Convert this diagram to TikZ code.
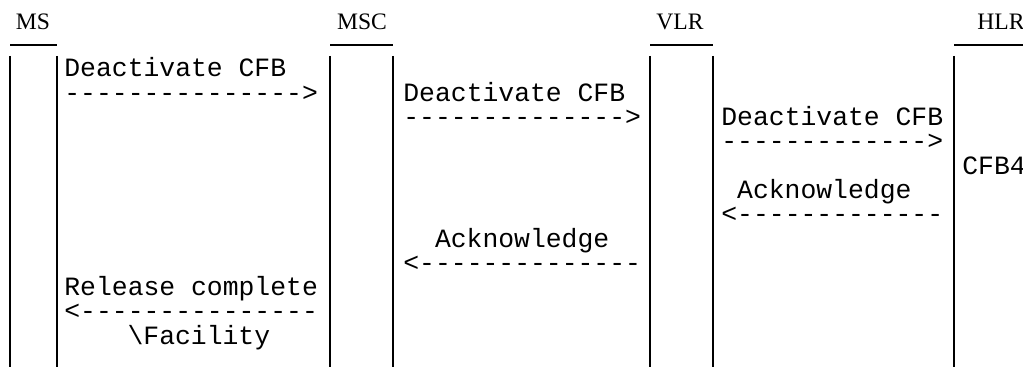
\documentclass[tikz,border=0pt]{standalone}
\usepackage{fontspec}
\setmainfont{Liberation Serif}
\setmonofont{Liberation Mono}
\usetikzlibrary{positioning}

\begin{document}
\begin{tikzpicture}[x=0.5pt, y=-0.5pt,
    entity/.style={font=\fontsize{11.8}{14}\selectfont, anchor=base, inner sep=0pt},
    msg/.style={font=\ttfamily\fontsize{13.2}{15}\selectfont, anchor=base west, inner sep=0pt},
    lifeline/.style={line width=0.65pt},
    headbar/.style={line width=1pt}]
  \useasboundingbox (0,0) rectangle (1023,367);
  % entities and their bars
  \node [entity] (ms) at (33,30) {MS};
  \node [entity] (msc) at (362,30) {MSC};
  \node [entity] (vlr) at (680,30) {VLR};
  \node [entity] (hlr) at (1001,30) {HLR};
  \draw [headbar] (10,45) -- (57,45);
  \draw [headbar] (330,45) -- (393,45);
  \draw [headbar] (650,45) -- (713,45);
  \draw [headbar] (954,45) -- (1023,45);
  % lifelines
  \foreach \x in {10,57,330,393,650,713,954}
    \draw [lifeline] (\x,56) -- (\x,367);
  % MS -> MSC
  \node [msg] (deact1) at (64,77) {Deactivate CFB};
  \node [msg] (deact1arr) at ([yshift=-12.15pt]deact1.base west) {--------------->};
  % MSC -> VLR
  \node [msg] (deact2) at (403,101.3) {Deactivate CFB};
  \node [msg] (deact2arr) at ([yshift=-12.15pt]deact2.base west) {-------------->};
  % VLR -> HLR
  \node [msg] (deact3) at (721,125.6) {Deactivate CFB};
  \node [msg] (deact3arr) at ([yshift=-12.15pt]deact3.base west) {------------->};
  \node [msg] (cfb) at (962,174.2) {CFB4};
  % HLR -> VLR
  \node [msg] (ack1) at (736.8,198.5) {Acknowledge};
  \node [msg] (ack1arr) at (721,222.8) {<-------------};
  % VLR -> MSC
  \node [msg] (ack2) at (434.6,247.1) {Acknowledge};
  \node [msg] (ack2arr) at (403,271.4) {<--------------};
  % MSC -> MS
  \node [msg] (rel) at (64,295.7) {Release complete};
  \node [msg] (relarr) at ([yshift=-12.15pt]rel.base west) {<---------------};
  \node [msg] (fac) at ([xshift=31.6pt, yshift=-24.3pt]rel.base west) {\textbackslash Facility};
\end{tikzpicture}
\end{document}
